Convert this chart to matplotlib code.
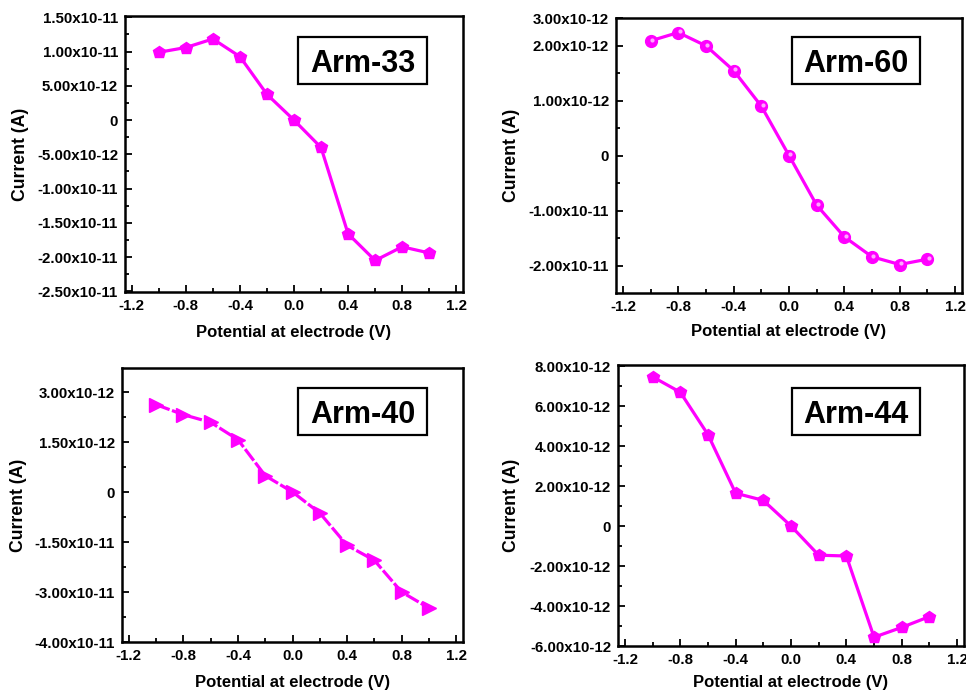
import matplotlib
matplotlib.use("Agg")
import matplotlib.pyplot as plt
import matplotlib.transforms as mtransforms
from matplotlib.patches import Rectangle
from matplotlib.ticker import FixedLocator, MultipleLocator

plt.rcParams['font.family'] = ['Liberation Sans', 'DejaVu Sans']
plt.rcParams['font.weight'] = 'bold'

# ---- data ----
potential = [-1.0, -0.8, -0.6, -0.4, -0.2, 0.0, 0.2, 0.4, 0.6, 0.8, 1.0]

arm33 = [0.99, 1.06, 1.185, 0.927, 0.376, 0.0, -0.40, -1.66, -2.05, -1.85, -1.94]   # x1e-11 A
arm60 = [2.085, 2.236, 1.994, 1.545, 0.897, 0.0, -0.903, -1.479, -1.842, -1.982, -1.885]
arm40 = [2.62, 2.32, 2.09, 1.57, 0.49, 0.0, -0.63, -1.60, -2.05, -3.00, -3.48]
arm44 = [7.46, 6.69, 4.57, 1.64, 1.28, 0.0, -1.46, -1.50, -5.56, -5.07, -4.53]       # x1e-12 A

labels = ["Arm-33", "Arm-60", "Arm-40", "Arm-44"]

yt33 = [1.5, 1.0, 0.5, 0.0, -0.5, -1.0, -1.5, -2.0, -2.5]
yl33 = ["1.50x10-11", "1.00x10-11", "5.00x10-12", "0", "-5.00x10-12", "-1.00x10-11",
        "-1.50x10-11", "-2.00x10-11", "-2.50x10-11"]
yt60 = [2.5, 2.0, 1.0, 0.0, -1.0, -2.0]
yl60 = ["3.00x10-12", "2.00x10-12", "1.00x10-12", "0", "-1.00x10-11", "-2.00x10-11"]
yt40 = [3.0, 1.5, 0.0, -1.5, -3.0, -4.5]
yl40 = ["3.00x10-12", "1.50x10-12", "0", "-1.50x10-11", "-3.00x10-11", "-4.00x10-11"]
yt44 = [8, 6, 4, 2, 0, -2, -4, -6]
yl44 = ["8.00x10-12", "6.00x10-12", "4.00x10-12", "2.00x10-12", "0", "-2.00x10-12",
        "-4.00x10-12", "-6.00x10-12"]

xticks = [-1.2, -0.8, -0.4, 0.0, 0.4, 0.8, 1.2]
xticklabels = ["-1.2", "-0.8", "-0.4", "0.0", "0.4", "0.8", "1.2"]

W, H = 966, 693
fig = plt.figure(figsize=(W / 100, H / 100), dpi=100)

MAG = '#FF00FF'

def px_axes(l, t, r, b):
    return fig.add_axes([l / W, 1 - b / H, (r - l) / W, (b - t) / H])

panels = [
    dict(rect=(125, 16, 463, 292), y=arm33, yt=yt33, yl=yl33, ylim=(-2.51, 1.52),
         minor=[1.25, 0.75, 0.25, -0.25, -0.75, -1.25, -1.75, -2.25],
         marker='p', ls='-', box=(298, 37, 427, 84), ylab_x=20, xlab_y=332),
    dict(rect=(616, 18, 962, 293), y=arm60, yt=yt60, yl=yl60, ylim=(-2.5, 2.5),
         minor=[1.5, 0.5, -0.5, -1.5],
         marker='o', ls='-', box=(792, 37, 920, 84), ylab_x=512, xlab_y=332),
    dict(rect=(122, 368, 463, 642), y=arm40, yt=yt40, yl=yl40, ylim=(-4.5, 3.72),
         minor=[2.25, 0.75, -0.75, -2.25, -3.75],
         marker='>', ls=(0, (4.5, 0.8)), box=(298, 388, 427, 435), ylab_x=19, xlab_y=682),
    dict(rect=(618, 365, 964, 646), y=arm44, yt=yt44, yl=yl44, ylim=(-6, 8.05),
         minor=[7, 5, 3, 1, -1, -3, -5],
         marker='p', ls='-', box=(792, 388, 920, 435), ylab_x=512, xlab_y=683),
]

for p, lab in zip(panels, labels):
    l, t, r, b = p['rect']
    ax = px_axes(l, t, r, b)
    ms = {'p': 9, 'o': 8.5, '>': 10}[p['marker']]
    ax.plot(potential, p['y'], color=MAG, lw=2.3, ls=p['ls'],
            marker=p['marker'], markersize=ms,
            markerfacecolor=MAG, markeredgecolor=MAG, zorder=3)
    if p['marker'] == 'o':
        off = mtransforms.ScaledTranslation(1.3 / 100, 1.3 / 100, fig.dpi_scale_trans)
        ax.plot(potential, p['y'], ls='none', marker='o', markersize=3.0,
                markerfacecolor='#FFA8FF', markeredgecolor='none',
                transform=ax.transData + off, zorder=4)
    ax.set_xlim(-1.25, 1.25)
    ax.set_ylim(*p['ylim'])
    ax.set_xticks(xticks)
    ax.set_xticklabels(xticklabels)
    ax.xaxis.set_minor_locator(MultipleLocator(0.2))
    ax.set_yticks(p['yt'])
    ax.set_yticklabels(p['yl'])
    ax.yaxis.set_minor_locator(FixedLocator(p['minor']))
    ax.tick_params(which='both', direction='in', top=False, right=False,
                   labelsize=10.8, width=1.3)
    ax.tick_params(axis='y', which='both', pad=5)
    ax.tick_params(axis='x', which='both', pad=5)
    ax.tick_params(which='major', length=5)
    ax.tick_params(which='minor', length=3)
    for sp in ax.spines.values():
        sp.set_linewidth(1.8)
    for tl in ax.get_xticklabels() + ax.get_yticklabels():
        tl.set_fontweight('bold')
    ax.set_ylabel("Current (A)", fontsize=12.7, fontweight='bold')
    ax.set_xlabel("Potential at electrode (V)", fontsize=12, fontweight='bold')
    aw, ah = r - l, b - t
    ax.yaxis.set_label_coords((p['ylab_x'] - l) / aw, 0.5)
    ax.xaxis.set_label_coords(0.5, (b - p['xlab_y']) / ah)
    ax.xaxis.label.set_va('center')
    ax.yaxis.label.set_va('center')
    bl, bt, br, bb = p['box']
    rx, ry = (bl - l) / aw, (b - bb) / ah
    rw, rh = (br - bl) / aw, (bb - bt) / ah
    ax.add_patch(Rectangle((rx, ry), rw, rh, transform=ax.transAxes,
                           facecolor='white', edgecolor='black', lw=1.6, zorder=5))
    ax.text(rx + rw / 2, ry + rh / 2, lab, transform=ax.transAxes, ha='center',
            va='center_baseline', fontsize=22, fontweight='bold', zorder=6)

fig.savefig("out.png", dpi=100)
